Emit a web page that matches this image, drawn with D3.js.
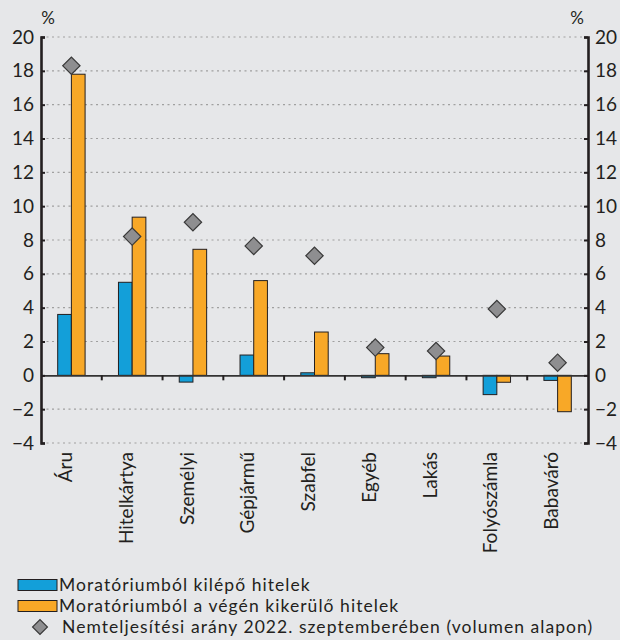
<!DOCTYPE html>
<html>
<head>
<meta charset="utf-8">
<script src="https://cdn.jsdelivr.net/npm/d3@7/dist/d3.min.js"></script>
<style>
  body { margin: 0; background: #e6e7e9; }
  svg { display: block; font-family: Lato, "Open Sans", sans-serif; }
</style>
</head>
<body>
<div id="canvas"></div>
<script>
const categories = ["Áru", "Hitelkártya", "Személyi", "Gépjármű", "Szabfel", "Egyéb", "Lakás", "Folyószámla", "Babaváró"];
const kilepo = [3.6, 5.5, -0.4, 1.2, 0.15, -0.14, -0.14, -1.14, -0.3];
const vegen = [17.8, 9.35, 7.45, 5.6, 2.56, 1.28, 1.14, -0.41, -2.15];
const nemteljesites = [18.3, 8.2, 9.05, 7.65, 7.07, 1.64, 1.44, 3.92, 0.75];
const yTicks = [-4, -2, 0, 2, 4, 6, 8, 10, 12, 14, 16, 18, 20];
const legendLabels = ["Moratóriumból kilépő hitelek", "Moratóriumból a végén kikerülő hitelek", "Nemteljesítési arány 2022. szeptemberében (volumen alapon)"];

const width = 620, height = 640;
const margin = {top: 37, left: 41, right: 32, bottom: 197};
const iwidth = width - margin.left - margin.right;
const iheight = height - margin.top - margin.bottom;

const blue = "#139fd9", orange = "#f8a827", gray = "#8e8e90", ink = "#231f20";

const svg = d3.select("#canvas").append("svg")
    .attr("width", width)
    .attr("height", height);

svg.append("rect").attr("width", width).attr("height", height).attr("fill", "#e6e7e9");

const g = svg.append("g").attr("transform", `translate(${margin.left},${margin.top})`);

const y = d3.scaleLinear().domain([-4, 20]).range([iheight, 0]);
const x = d3.scaleBand().domain(categories).range([0, iwidth]);
const barW = 13.7;

// gridlines
g.append("g").selectAll("line").data(yTicks.filter(d => d !== 0)).enter().append("line")
    .attr("x1", 0).attr("x2", iwidth)
    .attr("y1", d => y(d)).attr("y2", d => y(d))
    .attr("stroke", "#a0a0a0").attr("stroke-width", 1.2)
    .attr("stroke-dasharray", "2,3.5");

// bars
const rows = categories.map((c, i) => ({c, a: kilepo[i], b: vegen[i], d: nemteljesites[i]}));

g.append("g").selectAll("rect").data(rows).enter().append("rect")
    .attr("x", d => x(d.c) + x.bandwidth() / 2 - barW)
    .attr("y", d => y(Math.max(0, d.a)))
    .attr("width", barW)
    .attr("height", d => Math.abs(y(d.a) - y(0)))
    .attr("fill", blue).attr("stroke", ink).attr("stroke-width", 1);

g.append("g").selectAll("rect").data(rows).enter().append("rect")
    .attr("x", d => x(d.c) + x.bandwidth() / 2)
    .attr("y", d => y(Math.max(0, d.b)))
    .attr("width", barW)
    .attr("height", d => Math.abs(y(d.b) - y(0)))
    .attr("fill", orange).attr("stroke", ink).attr("stroke-width", 1);

// zero line with category ticks
const xAxis = g.append("g")
    .attr("transform", `translate(0,${y(0)})`)
    .call(d3.axisBottom(x).tickSize(0).tickFormat(""));
xAxis.select(".domain").attr("stroke", "#333").attr("stroke-width", 1.6);
xAxis.selectAll(".tk").data(categories.slice(1)).enter().append("line")
    .attr("x1", d => x(d)).attr("x2", d => x(d))
    .attr("y1", 0).attr("y2", 5)
    .attr("stroke", ink).attr("stroke-width", 2);

// diamonds
const diamond = d3.symbol().type(d3.symbolSquare).size(150);
g.append("g").selectAll("path").data(rows).enter().append("path")
    .attr("d", diamond)
    .attr("transform", d => `translate(${x(d.c) + x.bandwidth() / 2},${y(d.d)}) rotate(45)`)
    .attr("fill", gray).attr("stroke", "#3a3a3a").attr("stroke-width", 1.2);

// y axes
const fmt = d => d < 0 ? "\u2212" + Math.abs(d) : d;
const leftAxis = g.append("g")
    .call(d3.axisLeft(y).tickValues(yTicks).tickSize(-4).tickPadding(7).tickFormat(fmt));
const rightAxis = g.append("g")
    .attr("transform", `translate(${iwidth},0)`)
    .call(d3.axisRight(y).tickValues(yTicks).tickSize(-4).tickPadding(7).tickFormat(fmt));
[leftAxis, rightAxis].forEach(a => {
    a.select(".domain").attr("stroke", ink).attr("stroke-width", 2.6);
    a.selectAll(".tick line").attr("stroke", ink).attr("stroke-width", 2);
    a.selectAll(".tick text").attr("fill", ink).attr("font-size", 19).attr("font-family", "Lato, sans-serif");
});

svg.append("text").attr("x", 48).attr("y", 24).attr("text-anchor", "middle")
    .attr("font-size", 17).attr("fill", ink).text("%");
svg.append("text").attr("x", 577).attr("y", 24).attr("text-anchor", "middle")
    .attr("font-size", 17).attr("fill", ink).text("%");

// category labels
g.append("g").selectAll("text").data(categories).enter().append("text")
    .attr("transform", d => `translate(${x(d) + x.bandwidth() / 2 - 6},${iheight + 9}) rotate(-90)`)
    .attr("text-anchor", "end")
    .attr("dy", "0.35em")
    .attr("font-size", 19)
    .attr("fill", ink)
    .text(d => d);

// legend
const legend = svg.append("g").attr("transform", "translate(0,585)");
const legendRows = legend.selectAll("g").data(legendLabels).enter().append("g")
    .attr("transform", (d, i) => `translate(0,${i * 21})`);
legendRows.filter((d, i) => i < 2).append("rect")
    .attr("x", 18).attr("y", -5.5).attr("width", 39).attr("height", 11)
    .attr("fill", (d, i) => i === 0 ? blue : orange)
    .attr("stroke", ink).attr("stroke-width", 1);
legendRows.filter((d, i) => i === 2).append("path")
    .attr("d", d3.symbol().type(d3.symbolSquare).size(110))
    .attr("transform", "translate(40,0) rotate(45)")
    .attr("fill", gray).attr("stroke", "#3a3a3a").attr("stroke-width", 1.2);
legendRows.append("text")
    .attr("x", (d, i) => i < 2 ? 59 : 62)
    .attr("dy", "0.35em")
    .attr("font-size", 17.5)
    .attr("letter-spacing", 1.05)
    .attr("fill", ink)
    .text(d => d);
</script>
</body>
</html>
